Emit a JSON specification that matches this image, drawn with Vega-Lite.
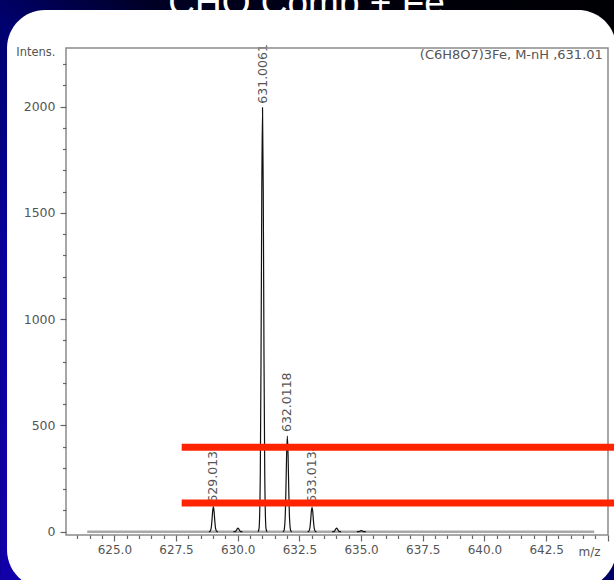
{
  "$schema": "https://vega.github.io/schema/vega-lite/v6.json",
  "width": 542,
  "height": 487,
  "padding": {"left": 66, "top": 48, "right": 6, "bottom": 45},
  "autosize": {"type": "none"},
  "background": "#000040",
  "config": {
    "view": {"stroke": null},
    "font": "DejaVu Sans",
    "axis": {
      "labelOverlap": false,
      "labelFlush": false,
      "domain": false,
      "grid": false,
      "labelFont": "DejaVu Sans",
      "labelColor": "#555555",
      "tickColor": "#666666",
      "tickWidth": 1.2,
      "titleFont": "DejaVu Sans",
      "titleFontWeight": "normal",
      "titleColor": "#555555"
    }
  },
  "datasets": {
    "spectrum": [
      {"mz": 628.833, "intensity": 0, "p": "629"}, {"mz": 628.873, "intensity": 0.9, "p": "629"}, {"mz": 628.923, "intensity": 16, "p": "629"}, {"mz": 628.953, "intensity": 48.5, "p": "629"}, {"mz": 628.983, "intensity": 94.5, "p": "629"}, {"mz": 629.013, "intensity": 118, "p": "629"}, {"mz": 629.043, "intensity": 94.5, "p": "629"}, {"mz": 629.073, "intensity": 48.5, "p": "629"}, {"mz": 629.103, "intensity": 16, "p": "629"}, {"mz": 629.153, "intensity": 0.9, "p": "629"}, {"mz": 629.193, "intensity": 0, "p": "629"},
      {"mz": 629.83, "intensity": 0, "p": "630"}, {"mz": 629.87, "intensity": 0.1, "p": "630"}, {"mz": 629.92, "intensity": 2.3, "p": "630"}, {"mz": 629.95, "intensity": 7, "p": "630"}, {"mz": 629.98, "intensity": 13.6, "p": "630"}, {"mz": 630.01, "intensity": 17, "p": "630"}, {"mz": 630.04, "intensity": 13.6, "p": "630"}, {"mz": 630.07, "intensity": 7, "p": "630"}, {"mz": 630.1, "intensity": 2.3, "p": "630"}, {"mz": 630.15, "intensity": 0.1, "p": "630"}, {"mz": 630.19, "intensity": 0, "p": "630"},
      {"mz": 630.826, "intensity": 0, "p": "631"}, {"mz": 630.866, "intensity": 15.8, "p": "631"}, {"mz": 630.916, "intensity": 270, "p": "631"}, {"mz": 630.946, "intensity": 820, "p": "631"}, {"mz": 630.976, "intensity": 1597, "p": "631"}, {"mz": 631.006, "intensity": 1995, "p": "631"}, {"mz": 631.036, "intensity": 1597, "p": "631"}, {"mz": 631.066, "intensity": 820, "p": "631"}, {"mz": 631.096, "intensity": 270, "p": "631"}, {"mz": 631.146, "intensity": 15.8, "p": "631"}, {"mz": 631.186, "intensity": 0, "p": "631"},
      {"mz": 631.832, "intensity": 0, "p": "632"}, {"mz": 631.872, "intensity": 3.6, "p": "632"}, {"mz": 631.922, "intensity": 60.9, "p": "632"}, {"mz": 631.952, "intensity": 185, "p": "632"}, {"mz": 631.982, "intensity": 360.3, "p": "632"}, {"mz": 632.012, "intensity": 450, "p": "632"}, {"mz": 632.042, "intensity": 360.3, "p": "632"}, {"mz": 632.072, "intensity": 185, "p": "632"}, {"mz": 632.102, "intensity": 60.9, "p": "632"}, {"mz": 632.152, "intensity": 3.6, "p": "632"}, {"mz": 632.192, "intensity": 0, "p": "632"},
      {"mz": 632.833, "intensity": 0, "p": "633"}, {"mz": 632.873, "intensity": 0.9, "p": "633"}, {"mz": 632.923, "intensity": 15.7, "p": "633"}, {"mz": 632.953, "intensity": 47.7, "p": "633"}, {"mz": 632.983, "intensity": 92.9, "p": "633"}, {"mz": 633.013, "intensity": 116, "p": "633"}, {"mz": 633.043, "intensity": 92.9, "p": "633"}, {"mz": 633.073, "intensity": 47.7, "p": "633"}, {"mz": 633.103, "intensity": 15.7, "p": "633"}, {"mz": 633.153, "intensity": 0.9, "p": "633"}, {"mz": 633.193, "intensity": 0, "p": "633"},
      {"mz": 633.83, "intensity": 0, "p": "634"}, {"mz": 633.87, "intensity": 0.1, "p": "634"}, {"mz": 633.92, "intensity": 2.3, "p": "634"}, {"mz": 633.95, "intensity": 7, "p": "634"}, {"mz": 633.98, "intensity": 13.6, "p": "634"}, {"mz": 634.01, "intensity": 17, "p": "634"}, {"mz": 634.04, "intensity": 13.6, "p": "634"}, {"mz": 634.07, "intensity": 7, "p": "634"}, {"mz": 634.1, "intensity": 2.3, "p": "634"}, {"mz": 634.15, "intensity": 0.1, "p": "634"}, {"mz": 634.19, "intensity": 0, "p": "634"},
      {"mz": 634.83, "intensity": 0, "p": "635"}, {"mz": 634.87, "intensity": 0, "p": "635"}, {"mz": 634.92, "intensity": 0.7, "p": "635"}, {"mz": 634.95, "intensity": 2.1, "p": "635"}, {"mz": 634.98, "intensity": 4, "p": "635"}, {"mz": 635.01, "intensity": 5, "p": "635"}, {"mz": 635.04, "intensity": 4, "p": "635"}, {"mz": 635.07, "intensity": 2.1, "p": "635"}, {"mz": 635.1, "intensity": 0.7, "p": "635"}, {"mz": 635.15, "intensity": 0, "p": "635"}, {"mz": 635.19, "intensity": 0, "p": "635"}
    ],
    "peaks": [
      {"mz": 629.013, "intensity": 118, "label": "629.0130"},
      {"mz": 631.006, "intensity": 1995, "label": "631.0061"},
      {"mz": 632.012, "intensity": 450, "label": "632.0118"},
      {"mz": 633.013, "intensity": 116, "label": "633.0134"}
    ],
    "levels": [
      {"level": 397, "start": 627.73, "end": 646},
      {"level": 135, "start": 627.73, "end": 646}
    ],
    "backdrop": [{"part": "backdrop", "x0": 620.37, "x1": 645.26, "y0": 2502, "y1": -227.3}],
    "panel": [{"part": "panel", "x0": 620.65, "x1": 645.34, "y0": 2455, "y1": -265}],
    "frame": [{"part": "frame", "x0": 623.04, "x1": 645.01, "y0": -15.5, "y1": 2276}],
    "simbase": [{"part": "simulated baseline", "x0": 623.9, "x1": 644.45, "y0": 0}],
    "texts": [
      {"role": "title", "text": "CHO Comp + Fe", "x": 632.79, "y": 2430},
      {"role": "note", "text": "(C6H8O7)3Fe, M-nH ,631.01", "x": 644.8, "y": 2245}
    ]
  },
  "layer": [
    {
      "data": {"name": "backdrop"},
      "mark": {"type": "rect", "clip": false},
      "encoding": {
        "x": {"field": "x0", "type": "quantitative"},
        "x2": {"field": "x1"},
        "y": {"field": "y0", "type": "quantitative"},
        "y2": {"field": "y1"},
        "color": {"value": {"gradient": "linear", "x1": 0, "y1": 1, "x2": 1, "y2": 0, "stops": [
          {"offset": 0, "color": "#1200aa"},
          {"offset": 0.3, "color": "#08009c"},
          {"offset": 0.48, "color": "#000070"},
          {"offset": 0.62, "color": "#000025"},
          {"offset": 0.8, "color": "#00000c"},
          {"offset": 1, "color": "#000003"}
        ]}}
      }
    },
    {
      "data": {"name": "panel"},
      "mark": {"type": "rect", "clip": false, "color": "#ffffff", "cornerRadius": 38},
      "encoding": {
        "x": {"field": "x0", "type": "quantitative"},
        "x2": {"field": "x1"},
        "y": {"field": "y0", "type": "quantitative"},
        "y2": {"field": "y1"}
      }
    },
    {
      "data": {"name": "texts"},
      "transform": [{"filter": "datum.role === 'title'"}],
      "mark": {"type": "text", "clip": false, "font": "Liberation Sans", "fontSize": 37, "color": "#ffffff", "align": "center", "baseline": "alphabetic"},
      "encoding": {
        "x": {"field": "x", "type": "quantitative"},
        "y": {"field": "y", "type": "quantitative"},
        "text": {"field": "text"}
      }
    },
    {
      "data": {"name": "simbase"},
      "mark": {"type": "rule", "color": "#a8a8a8", "strokeWidth": 2.5},
      "encoding": {
        "x": {"field": "x0", "type": "quantitative"},
        "x2": {"field": "x1"},
        "y": {"field": "y0", "type": "quantitative"}
      }
    },
    {
      "data": {"name": "spectrum"},
      "mark": {"type": "line", "color": "#111111", "strokeWidth": 1.2, "interpolate": "monotone"},
      "encoding": {
        "x": {
          "field": "mz",
          "type": "quantitative",
          "scale": {"domain": [623.04, 645.01], "nice": false, "zero": false},
          "axis": {
            "title": "m/z",
            "values": [623.5, 624, 624.5, 625, 625.5, 626, 626.5, 627, 627.5, 628, 628.5, 629, 629.5, 630, 630.5, 631, 631.5, 632, 632.5, 633, 633.5, 634, 634.5, 635, 635.5, 636, 636.5, 637, 637.5, 638, 638.5, 639, 639.5, 640, 640.5, 641, 641.5, 642, 642.5, 643, 643.5, 644, 644.5, 645],
            "tickCount": 200,
            "labelExpr": "datum.value % 2.5 === 0 && datum.value < 644 ? format(datum.value, '.1f') : ''",
            "tickSize": {"condition": {"test": "datum.value % 2.5 === 0", "value": 6}, "value": 3.5},
            "domain": false,
            "grid": false,
            "zindex": 1,
            "labelFontSize": 12,
            "labelPadding": 3,
            "labelOverlap": false,
            "titleX": 534,
            "titleY": 16,
            "titleAlign": "right",
            "titleBaseline": "middle",
            "titleAngle": 0,
            "titleFontSize": 12
          }
        },
        "y": {
          "field": "intensity",
          "type": "quantitative",
          "scale": {"domain": [-15.5, 2276], "nice": false, "zero": false},
          "axis": {
            "title": "Intens.",
            "values": [0, 100, 200, 300, 400, 500, 600, 700, 800, 900, 1000, 1100, 1200, 1300, 1400, 1500, 1600, 1700, 1800, 1900, 2000, 2100, 2200],
            "tickCount": 200,
            "format": "d",
            "labelExpr": "datum.value % 500 === 0 ? datum.label : ''",
            "tickSize": {"condition": {"test": "datum.value % 500 === 0", "value": 6}, "value": 3.5},
            "domain": false,
            "grid": false,
            "zindex": 1,
            "labelFontSize": 12.5,
            "labelPadding": 5,
            "labelOverlap": false,
            "titleX": -11,
            "titleY": 4,
            "titleAlign": "right",
            "titleBaseline": "middle",
            "titleAngle": 0,
            "titleFontSize": 11.5
          }
        },
        "detail": {"field": "p"}
      }
    },
    {
      "data": {"name": "peaks"},
      "mark": {"type": "text", "angle": 270, "align": "left", "baseline": "middle", "dx": 4, "font": "DejaVu Sans", "fontSize": 12.5, "color": "#555555", "clip": false},
      "encoding": {
        "x": {"field": "mz", "type": "quantitative"},
        "y": {"field": "intensity", "type": "quantitative"},
        "text": {"field": "label"}
      }
    },
    {
      "data": {"name": "texts"},
      "transform": [{"filter": "datum.role === 'note'"}],
      "mark": {"type": "text", "align": "right", "baseline": "middle", "font": "DejaVu Sans", "fontSize": 13, "color": "#555555"},
      "encoding": {
        "x": {"field": "x", "type": "quantitative"},
        "y": {"field": "y", "type": "quantitative"},
        "text": {"field": "text"}
      }
    },
    {
      "data": {"name": "frame"},
      "mark": {"type": "rect", "filled": false, "color": "#8a8a8a", "strokeWidth": 1.5},
      "encoding": {
        "x": {"field": "x0", "type": "quantitative"},
        "x2": {"field": "x1"},
        "y": {"field": "y0", "type": "quantitative"},
        "y2": {"field": "y1"}
      }
    },
    {
      "data": {"name": "levels"},
      "mark": {"type": "rule", "color": "#ff2400", "strokeWidth": 7, "clip": false},
      "encoding": {
        "x": {"field": "start", "type": "quantitative"},
        "x2": {"field": "end"},
        "y": {"field": "level", "type": "quantitative"}
      }
    }
  ]
}
